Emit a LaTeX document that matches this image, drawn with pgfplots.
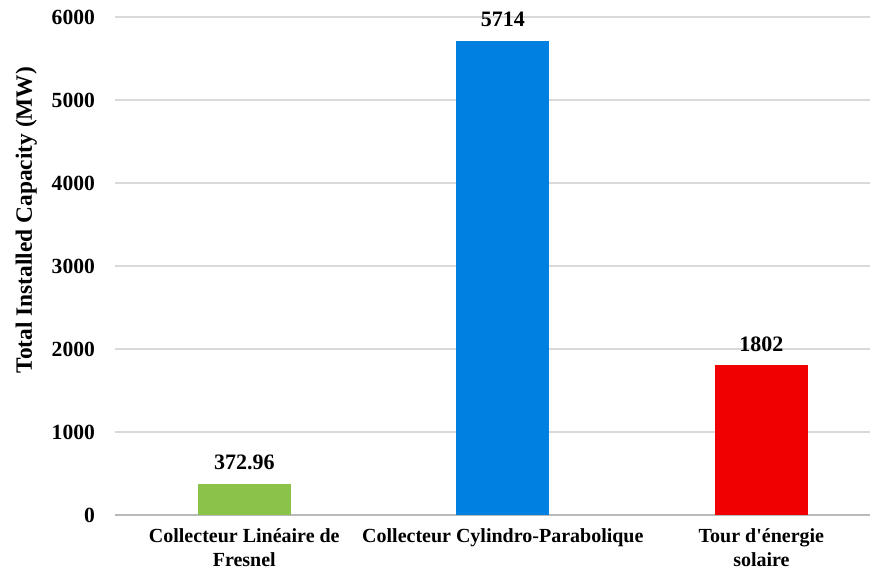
\documentclass[border=0pt]{standalone}
\usepackage{pgfplots}
\pgfplotsset{compat=1.18}
\usepackage{fontspec}
\setmainfont{Liberation Serif}[Ligatures=TeXOff]

\definecolor{fresnelgreen}{RGB}{139,195,74}
\definecolor{troughblue}{RGB}{0,128,224}
\definecolor{towerred}{RGB}{240,0,0}

\begin{document}
\begin{tikzpicture}
\begin{axis}[
    scale only axis,
    width=377.5pt, height=249pt,
    xmin=-0.5, xmax=2.42,
    ymin=0, ymax=6000,
    ytick={0,1000,...,6000},
    xtick={0,1,2},
    xticklabels={{Collecteur Linéaire de\\Fresnel},{Collecteur Cylindro-Parabolique},{Tour d'énergie\\solaire}},
    xticklabel style={align=center, yshift=-3.5pt, font=\bfseries\fontsize{10}{12}\selectfont},
    yticklabel style={font=\bfseries\fontsize{10.8}{12}\selectfont, xshift=-6.5pt},
    /pgf/number format/assume math mode=true,
    /pgf/number format/1000 sep={},
    ylabel={Total Installed Capacity (MW)},
    ylabel style={at={([xshift=-35.5pt]rel axis cs:0,0.592)}, anchor=south, rotate=0,
                  font=\bfseries\fontsize{11.7}{13}\selectfont},
    axis x line*=bottom,
    axis y line*=left,
    y axis line style={draw=none},
    x axis line style={draw=gray!55, line width=0.8pt, -},
    major tick length=0pt,
    ymajorgrids,
    grid style={gray!30, line width=0.6pt},
    bar width=46.5pt,
    ybar, bar shift=0pt,
    point meta=explicit symbolic,
    nodes near coords,
    nodes near coords style={font=\bfseries\fontsize{11}{13}\selectfont, anchor=south, yshift=3.5pt, black},
    clip=false,
]
\addplot[fill=fresnelgreen, draw=none] coordinates {(0,372.96) [372.96]};
\addplot[fill=troughblue, draw=none] coordinates {(1,5714) [5714]};
\addplot[fill=towerred, draw=none] coordinates {(2,1802) [1802]};
\end{axis}
\pgfresetboundingbox
\path[use as bounding box] (-57.5pt,-28pt) rectangle (382.5pt,257.5pt);
\end{tikzpicture}
\end{document}
